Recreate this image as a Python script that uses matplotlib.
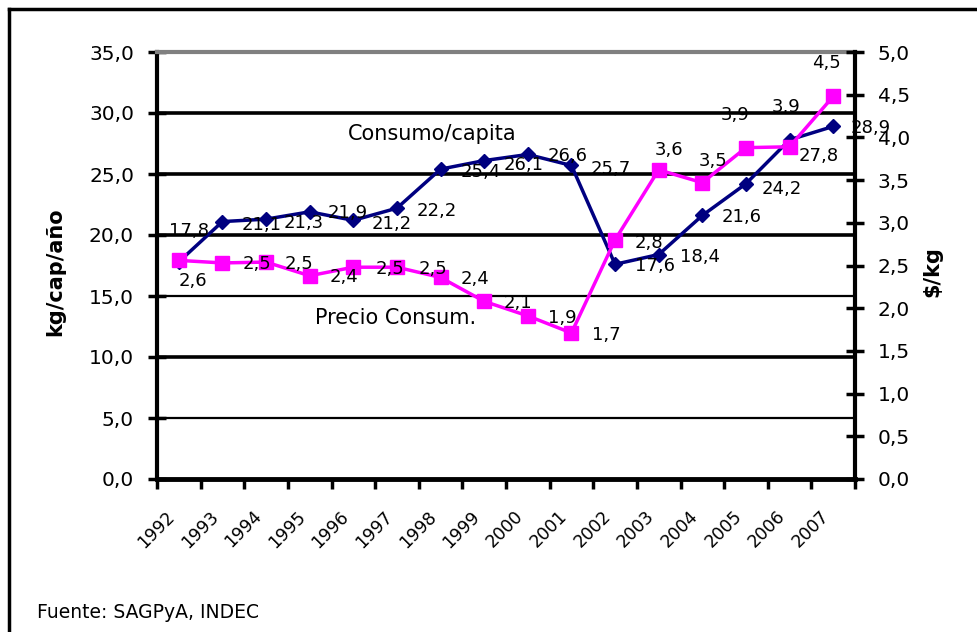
import matplotlib
matplotlib.use('Agg')
import matplotlib.pyplot as plt
from matplotlib.ticker import FuncFormatter
from matplotlib.transforms import ScaledTranslation
from matplotlib.lines import Line2D

# ---------------- data ----------------
years = [str(y) for y in range(1992, 2008)]
consumo = [17.8, 21.1, 21.3, 21.9, 21.2, 22.2, 25.4, 26.1, 26.6, 25.7,
           17.6, 18.4, 21.6, 24.2, 27.8, 28.9]          # kg/cap/año
precio = [2.56, 2.53, 2.54, 2.38, 2.48, 2.48, 2.36, 2.08, 1.91, 1.71,
          2.80, 3.62, 3.47, 3.88, 3.89, 4.48]           # $/kg
left_ticks = [0, 5, 10, 15, 20, 25, 30, 35]
right_ticks = [0, 0.5, 1.0, 1.5, 2.0, 2.5, 3.0, 3.5, 4.0, 4.5, 5.0]

# label offsets (pixels: dx to left edge, dy downward)
consumo_off = [(-10, -31), (19, 3), (18, 4), (18, 1), (18, 4), (20, 3), (20, 3),
               (19, 4), (20, 2), (19, 4), (20, 2), (21, 2), (19, 2), (16, 5),
               (9, 16), (17, 2)]
precio_off = [(0, 21), (20, 1), (19, 2), (20, 1), (22, 2), (22, 2), (20, 2),
              (19, 2), (20, 2), (21, 2), (20, 3), (-4, -20), (-4, -22),
              (-25, -33), (-18, -40), (-21, -33)]

plt.rcParams['font.family'] = ['DejaVu Sans']

def fmt(v):
    return f"{v:.1f}".replace('.', ',')

fig = plt.figure(figsize=(9.77, 6.32), dpi=100)
W, H = 977, 632
ax = fig.add_axes([157 / W, 1 - 479 / H, 698 / W, 427 / H])
ax2 = ax.twinx()

n = len(years)
xs = list(range(n))
ax.set_xlim(-0.5, n - 0.5)
ax.set_ylim(0, 35)
ax2.set_ylim(0, 5)

# gridlines
grid_lw = {5: 1.6, 10: 2.6, 15: 1.6, 20: 2.6, 25: 2.6, 30: 2.6}
for v, lw in grid_lw.items():
    ax.axhline(v, color='black', lw=lw, zorder=1)

# series
ax.plot(xs, consumo, color='#000080', lw=2.5, marker='D', ms=7,
        mec='#000080', mfc='#000080', zorder=3, clip_on=False)
ax2.plot(xs, precio, color='#FF00FF', lw=2.5, marker='s', ms=10,
         mec='#FF00FF', mfc='#FF00FF', zorder=3, clip_on=False)

for i, v in enumerate(consumo):
    dx, dy = consumo_off[i]
    ax.annotate(fmt(v), (i, v), xytext=(dx, -dy), textcoords='offset pixels',
                ha='left', va='center', fontsize=13, color='black', zorder=5)
for i, v in enumerate(precio):
    dx, dy = precio_off[i]
    ax2.annotate(fmt(v), (i, v), xytext=(dx, -dy), textcoords='offset pixels',
                 ha='left', va='center', fontsize=13, color='black', zorder=5)

# x axis
ax.set_xticks([i - 0.5 for i in range(n + 1)])
ax.set_xticklabels([])
ax.set_xticks(xs, minor=True)
ax.set_xticklabels(years, minor=True, rotation=45, ha='right', va='center',
                   rotation_mode='anchor', fontsize=12.5)
ax.tick_params(axis='x', which='major', direction='out', length=7, width=2.5)
ax.tick_params(axis='x', which='minor', length=0, pad=25)
shift = ScaledTranslation(-7 / 100, 0, fig.dpi_scale_trans)
for lbl in ax.get_xticklabels(minor=True):
    lbl.set_transform(lbl.get_transform() + shift)

# y axes
ax.set_yticks(left_ticks)
ax.yaxis.set_major_formatter(FuncFormatter(lambda v, _: fmt(v)))
ax.tick_params(axis='y', direction='inout', length=13, width=2.5,
               labelsize=14.5, pad=10)
ax2.set_yticks(right_ticks)
ax2.yaxis.set_major_formatter(FuncFormatter(lambda v, _: fmt(v)))
ax2.tick_params(axis='y', direction='inout', length=13, width=2.5,
                labelsize=14.5, pad=10)

# spines
ax.spines['right'].set_visible(False)
ax.spines['left'].set_linewidth(3)
ax.spines['bottom'].set_linewidth(3.5)
ax.spines['top'].set_linewidth(3)
ax.spines['top'].set_color('#808080')
for s in ['left', 'top', 'bottom']:
    ax2.spines[s].set_visible(False)
ax2.spines['right'].set_linewidth(3)

# texts
fig.text(432 / W, 1 - 134 / H, 'Consumo/capita', ha='center', va='center',
         fontsize=15)
fig.text(396 / W, 1 - 318 / H, 'Precio Consum.', ha='center', va='center',
         fontsize=15)
fig.text(55 / W, 1 - 272 / H, 'kg/cap/año', rotation=90, ha='center',
         va='center', fontsize=15, fontweight='bold')
fig.text(932 / W, 1 - 272 / H, '$/kg', rotation=90, ha='center',
         va='center', fontsize=15, fontweight='bold')
fig.text(37 / W, 1 - 613 / H, 'Fuente: SAGPyA, INDEC', ha='left',
         va='center', fontsize=13.5)

# outer frame (top and left edges visible)
fig.add_artist(Line2D([9 / W, 1.0], [1 - 9 / H, 1 - 9 / H], color='black',
                      lw=2.5, transform=fig.transFigure))
fig.add_artist(Line2D([9 / W, 9 / W], [0.0, 1 - 9 / H], color='black',
                      lw=2.5, transform=fig.transFigure))

fig.savefig('out.png', dpi=100)
